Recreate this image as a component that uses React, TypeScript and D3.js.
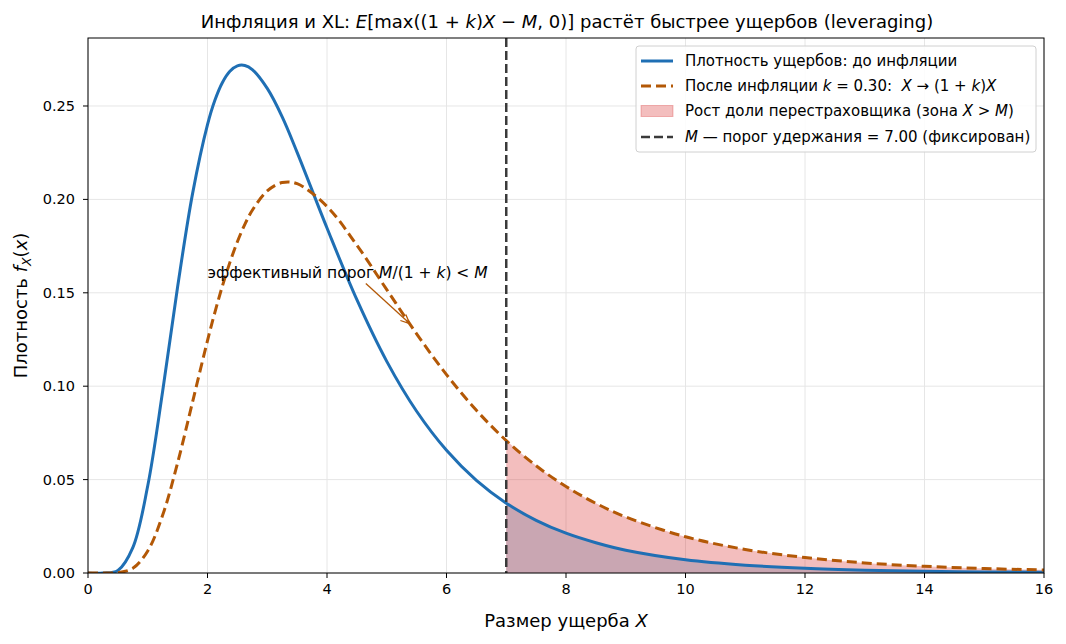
import React from "react";
import * as d3 from "d3";

// loss size grid and densities before / after inflation
const xs = [0, 0.25, 0.5, 0.75, 1, 1.25, 1.5, 1.75, 2, 2.125, 2.25, 2.375, 2.5, 2.625, 2.75, 3, 3.25, 3.5, 4, 4.5, 5, 5.5, 6, 6.5, 7, 7.5, 8, 8.5, 9, 10, 11, 12, 13, 14, 15, 16];
const fBefore = [0, 0, 0.0014, 0.0136, 0.0467, 0.0974, 0.1532, 0.2031, 0.24, 0.2532, 0.2626, 0.2686, 0.2715, 0.2717, 0.2695, 0.2594, 0.2442, 0.2252, 0.1847, 0.1463, 0.1133, 0.0866, 0.0657, 0.0496, 0.0374, 0.0282, 0.0213, 0.0162, 0.0122, 0.0071, 0.0042, 0.0025, 0.0015, 0.0009, 0.0006, 0.0004];
const fAfter = [0, 0, 0.0002, 0.0025, 0.0118, 0.031, 0.059, 0.0916, 0.1244, 0.1397, 0.1537, 0.1663, 0.1773, 0.1866, 0.1942, 0.2045, 0.209, 0.2084, 0.1962, 0.1755, 0.1517, 0.128, 0.1062, 0.0871, 0.0709, 0.0574, 0.0463, 0.0373, 0.03, 0.0194, 0.0126, 0.0083, 0.0054, 0.0036, 0.0024, 0.0016];

const xTicks = [0, 2, 4, 6, 8, 10, 12, 14, 16];
const yTicks = [0, 0.05, 0.1, 0.15, 0.2, 0.25];

const M = 7.0;
const k = 0.3;
const arrowFrom = [4.65, 0.155];
const arrowTo = [M / (1 + k), 0.1335];
const labelAt = [2.0, 0.158];

const W = 1066;
const H = 644;
const margin = { top: 38, right: 22, bottom: 71, left: 88 };
const FONT = "DejaVu Sans, sans-serif";

const App = () => {
    const width = W - margin.left - margin.right;
    const height = H - margin.top - margin.bottom;

    const x = d3.scaleLinear().domain([0, 16]).range([0, width]);
    const y = d3.scaleLinear().domain([0, 0.2864]).range([height, 0]);

    const pts = (ys: number[]) => xs.map((v, i) => [v, ys[i]] as [number, number]);

    const line = d3.line<[number, number]>()
        .x(d => x(d[0]))
        .y(d => y(d[1]))
        .curve(d3.curveCatmullRom.alpha(0.5));

    const area = d3.area<[number, number]>()
        .x(d => x(d[0]))
        .y0(y(0))
        .y1(d => y(d[1]))
        .curve(d3.curveCatmullRom.alpha(0.5));

    // tail beyond the retention M
    const tailAfter = pts(fAfter).filter(d => d[0] >= M);
    const tailBefore = pts(fBefore).filter(d => d[0] >= M);

    // arrow from the label to the effective threshold on the inflated curve
    const ax = x(arrowFrom[0]), ay = y(arrowFrom[1]);
    const bx = x(arrowTo[0]), by = y(arrowTo[1]);
    const ang = Math.atan2(by - ay, bx - ax);
    const hl = 9, hw = 4;
    const head = [
        [bx - hl * Math.cos(ang) + hw * Math.sin(ang), by - hl * Math.sin(ang) - hw * Math.cos(ang)],
        [bx, by],
        [bx - hl * Math.cos(ang) - hw * Math.sin(ang), by - hl * Math.sin(ang) + hw * Math.cos(ang)],
    ];

    const legendX = 636, legendY = 46;
    const rows = [61, 86, 111, 137].map(v => v - legendY);

    return (
        <svg width={W} height={H} style={{ position: "absolute", left: 0, top: 0, background: "#fff" }} fontFamily={FONT}>
            <text x={567} y={28} textAnchor="middle" fontSize={18} xmlSpace="preserve">
                Инфляция и XL: <tspan fontStyle="italic">E</tspan>[max((1 + <tspan fontStyle="italic">k</tspan>)<tspan fontStyle="italic">X</tspan> − <tspan fontStyle="italic">M</tspan>, 0)] растёт быстрее ущербов (leveraging)
            </text>
            <g transform={`translate(${margin.left},${margin.top})`}>
                <clipPath id="plot">
                    <rect x={0} y={0} width={width} height={height} />
                </clipPath>
                {/* grid */}
                {xTicks.map(t => (
                    <line key={"gx" + t} x1={x(t)} x2={x(t)} y1={0} y2={height} stroke="#e6e6e6" strokeWidth={1} />
                ))}
                {yTicks.map(t => (
                    <line key={"gy" + t} x1={0} x2={width} y1={y(t)} y2={y(t)} stroke="#e6e6e6" strokeWidth={1} />
                ))}
                <g clipPath="url(#plot)">
                    <path d={area(tailAfter) ?? ""} fill="#d62728" fillOpacity={0.3} />
                    <path d={area(tailBefore) ?? ""} fill="#c9a6b2" />
                    <path d={line(pts(fBefore)) ?? ""} fill="none" stroke="#1f6fb4" strokeWidth={3} />
                    <path d={line(pts(fAfter)) ?? ""} fill="none" stroke="#b35806" strokeWidth={3} strokeDasharray="10,5" />
                    <line x1={x(M)} x2={x(M)} y1={0} y2={height} stroke="#3a3a3a" strokeWidth={2.5} strokeDasharray="9,4" />
                </g>
                {/* annotation */}
                <text x={x(labelAt[0])} y={y(labelAt[1])} fontSize={15.5}>
                    эффективный порог <tspan fontStyle="italic">M</tspan>/(1 + <tspan fontStyle="italic">k</tspan>) &lt; <tspan fontStyle="italic">M</tspan>
                </text>
                <line x1={ax} y1={ay} x2={bx - 3 * Math.cos(ang)} y2={by - 3 * Math.sin(ang)} stroke="#b35806" strokeWidth={1.3} />
                <polyline points={head.map(p => p.join(",")).join(" ")} fill="none" stroke="#b35806" strokeWidth={1.3} />
                {/* frame */}
                <rect x={0} y={0} width={width} height={height} fill="none" stroke="#000" strokeWidth={1} />
                {/* axes */}
                {xTicks.map(t => (
                    <g key={"tx" + t} transform={`translate(${x(t)},${height})`}>
                        <line y2={5} stroke="#000" />
                        <text y={21} textAnchor="middle" fontSize={14.5}>{t}</text>
                    </g>
                ))}
                {yTicks.map(t => (
                    <g key={"ty" + t} transform={`translate(0,${y(t)})`}>
                        <line x2={-5} stroke="#000" />
                        <text x={-13} dy="0.35em" textAnchor="end" fontSize={14.5}>{t.toFixed(2)}</text>
                    </g>
                ))}
                <text x={width / 2} y={height + 54} textAnchor="middle" fontSize={18}>
                    Размер ущерба <tspan fontStyle="italic">X</tspan>
                </text>
                <text transform={`translate(${-61},${height / 2}) rotate(-90)`} textAnchor="middle" fontSize={18}>
                    Плотность <tspan fontStyle="italic">f</tspan><tspan fontStyle="italic" fontSize={12.5} dy={4}>X</tspan><tspan dy={-4}>(</tspan><tspan fontStyle="italic">x</tspan>)
                </text>
            </g>
            {/* legend */}
            <g transform={`translate(${legendX},${legendY})`} fontSize={15}>
                <rect x={0} y={0} width={400} height={106} rx={3} fill="#fff" fillOpacity={0.85} stroke="#d0d0d0" />
                <line x1={5} x2={37} y1={rows[0]} y2={rows[0]} stroke="#1f6fb4" strokeWidth={3} />
                <text x={49} y={rows[0]} dy="0.35em">Плотность ущербов: до инфляции</text>
                <line x1={5} x2={37} y1={rows[1]} y2={rows[1]} stroke="#b35806" strokeWidth={3} strokeDasharray="10,5" />
                <text x={49} y={rows[1]} dy="0.35em" xmlSpace="preserve">
                    После инфляции <tspan fontStyle="italic">k</tspan> = 0.30:  <tspan fontStyle="italic">X</tspan> → (1 + <tspan fontStyle="italic">k</tspan>)<tspan fontStyle="italic">X</tspan>
                </text>
                <rect x={5} y={rows[2] - 5.5} width={32} height={11} fill="#d62728" fillOpacity={0.3} stroke="#d62728" strokeOpacity={0.3} />
                <text x={49} y={rows[2]} dy="0.35em">
                    Рост доли перестраховщика (зона <tspan fontStyle="italic">X</tspan> &gt; <tspan fontStyle="italic">M</tspan>)
                </text>
                <line x1={5} x2={37} y1={rows[3]} y2={rows[3]} stroke="#3a3a3a" strokeWidth={2.5} strokeDasharray="9,4" />
                <text x={49} y={rows[3]} dy="0.35em">
                    <tspan fontStyle="italic">M</tspan> — порог удержания = 7.00 (фиксирован)
                </text>
            </g>
        </svg>
    );
};

export default App;
